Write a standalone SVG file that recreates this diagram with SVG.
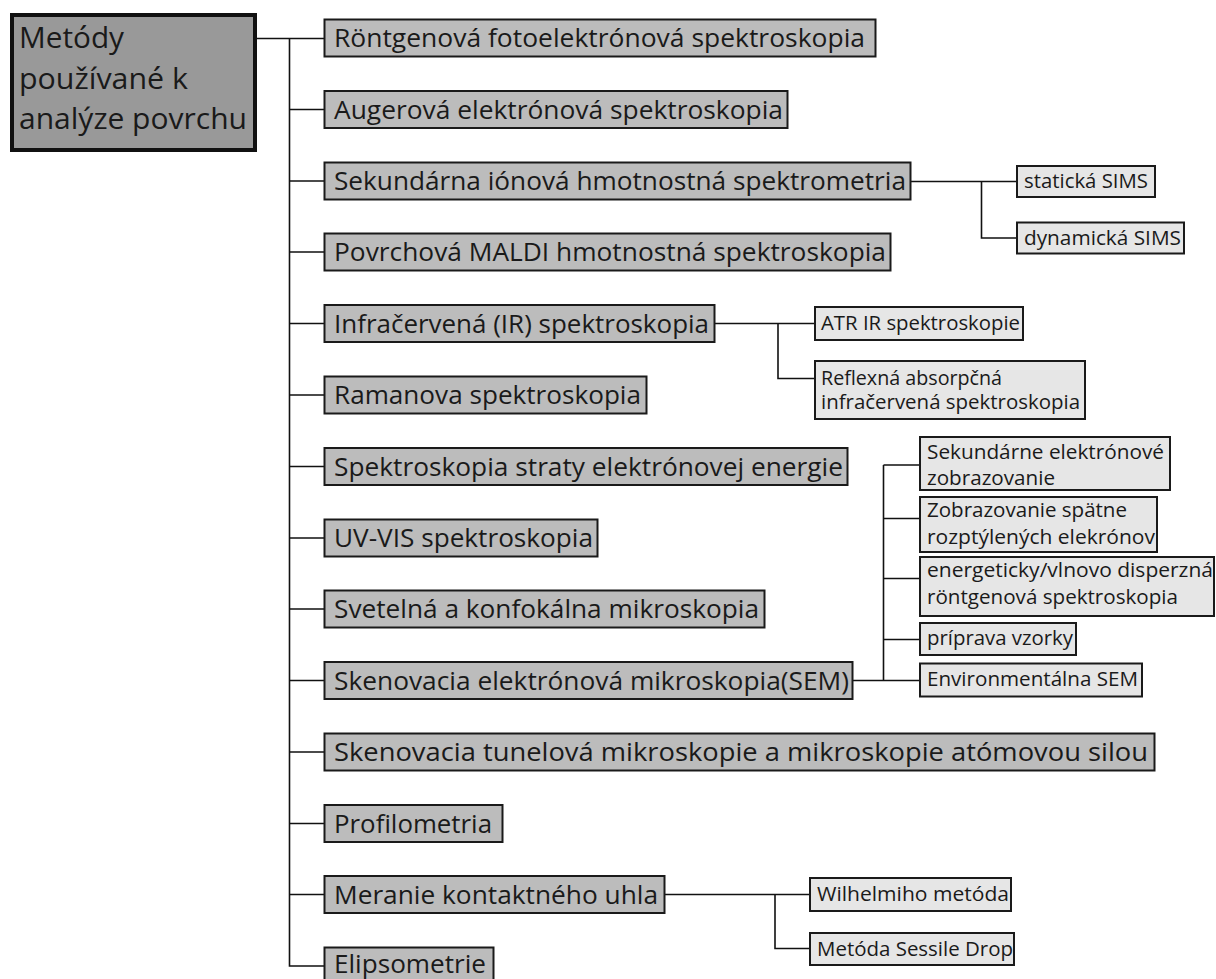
<svg xmlns="http://www.w3.org/2000/svg" width="1216" height="979" viewBox="0 0 1216 979">
<style>
text{font-family:"Open Sans","Noto Sans","DejaVu Sans",sans-serif;fill:#1a1a1a}
.root rect{fill:#999999;stroke:#111;stroke-width:4}
.root text{font-size:30px}
.m rect{fill:#bcbcbc;stroke:#1a1a1a;stroke-width:2}
.m text{font-size:26px}
.s rect{fill:#e6e6e6;stroke:#1a1a1a;stroke-width:2}
.s text{font-size:20px}
#connectors{fill:none;stroke:#111;stroke-width:1.6}
</style>
<rect width="1216" height="979" fill="#ffffff"/>
<g id="connectors">
<path d="M257 38.5H324M289.5 38.5V966H324"/>
<path d="M289.5 109.5H324M289.5 181H324M289.5 252H324M289.5 323.5H324M289.5 395H324M289.5 466.5H324M289.5 538H324M289.5 609H324M289.5 680.5H324M289.5 752H324M289.5 823.5H324M289.5 894.5H324"/>
<path d="M911 181.5H1017M981.5 181.5V238H1017"/>
<path d="M715 323.5H815M778 323.5V378.5H815"/>
<path d="M853 680.5H920M883.5 465V680.5M883.5 465H920M883.5 518.5H920M883.5 578.5H920M883.5 639.5H920"/>
<path d="M665 894.5H810M775 894.5V948.5H810"/>
</g>
<g id="root" class="root">
<rect x="12" y="15" width="243" height="135"/>
<text x="19" y="47.5" textLength="105" lengthAdjust="spacingAndGlyphs">Metódy</text>
<text x="19" y="88.5" textLength="169" lengthAdjust="spacingAndGlyphs">používané k</text>
<text x="19" y="129" textLength="228" lengthAdjust="spacingAndGlyphs">analýze povrchu</text>
</g>
<g id="n1" class="m"><rect x="324.5" y="19.5" width="551" height="37"/><text x="334" y="47" textLength="531" lengthAdjust="spacingAndGlyphs">Röntgenová fotoelektrónová spektroskopia</text></g>
<g id="n2" class="m"><rect x="324.5" y="91" width="463" height="37"/><text x="334" y="118.5" textLength="449" lengthAdjust="spacingAndGlyphs">Augerová elektrónová spektroskopia</text></g>
<g id="n3" class="m"><rect x="324.5" y="162.5" width="586" height="37"/><text x="334" y="190" textLength="572" lengthAdjust="spacingAndGlyphs">Sekundárna iónová hmotnostná spektrometria</text></g>
<g id="n4" class="m"><rect x="324.5" y="233.5" width="566" height="37"/><text x="334" y="261" textLength="552" lengthAdjust="spacingAndGlyphs">Povrchová MALDI hmotnostná spektroskopia</text></g>
<g id="n5" class="m"><rect x="324.5" y="305" width="390" height="37"/><text x="334" y="332.5" textLength="375" lengthAdjust="spacingAndGlyphs">Infračervená (IR) spektroskopia</text></g>
<g id="n6" class="m"><rect x="324.5" y="376.5" width="322" height="37"/><text x="334" y="404" textLength="307" lengthAdjust="spacingAndGlyphs">Ramanova spektroskopia</text></g>
<g id="n7" class="m"><rect x="324.5" y="448" width="523" height="37"/><text x="334" y="475.5" textLength="509" lengthAdjust="spacingAndGlyphs">Spektroskopia straty elektrónovej energie</text></g>
<g id="n8" class="m"><rect x="324.5" y="519.5" width="273" height="37"/><text x="334" y="547" textLength="259" lengthAdjust="spacingAndGlyphs">UV-VIS spektroskopia</text></g>
<g id="n9" class="m"><rect x="324.5" y="590.5" width="440" height="37"/><text x="334" y="618" textLength="425" lengthAdjust="spacingAndGlyphs">Svetelná a konfokálna mikroskopia</text></g>
<g id="n10" class="m"><rect x="324.5" y="662" width="528" height="37"/><text x="334" y="689.5" textLength="515" lengthAdjust="spacingAndGlyphs">Skenovacia elektrónová mikroskopia(SEM)</text></g>
<g id="n11" class="m"><rect x="324.5" y="733.5" width="830" height="37"/><text x="334" y="761" textLength="814" lengthAdjust="spacingAndGlyphs">Skenovacia tunelová mikroskopie a mikroskopie atómovou silou</text></g>
<g id="n12" class="m"><rect x="324.5" y="805" width="178" height="37"/><text x="334" y="832.5" textLength="158" lengthAdjust="spacingAndGlyphs">Profilometria</text></g>
<g id="n13" class="m"><rect x="324.5" y="876" width="340" height="37"/><text x="334" y="903.5" textLength="324" lengthAdjust="spacingAndGlyphs">Meranie kontaktného uhla</text></g>
<g id="n14" class="m"><rect x="324.5" y="947.5" width="169" height="37"/><text x="334" y="972.5" textLength="152" lengthAdjust="spacingAndGlyphs">Elipsometrie</text></g>
<g id="s1" class="s"><rect x="1017" y="166" width="138" height="31"/><text x="1024" y="188" textLength="124" lengthAdjust="spacingAndGlyphs">statická SIMS</text></g>
<g id="s2" class="s"><rect x="1017" y="222.5" width="167" height="31"/><text x="1024" y="245" textLength="157" lengthAdjust="spacingAndGlyphs">dynamická SIMS</text></g>
<g id="s3" class="s"><rect x="815" y="307" width="208" height="33"/><text x="821" y="330" textLength="199" lengthAdjust="spacingAndGlyphs">ATR IR spektroskopie</text></g>
<g id="s4" class="s"><rect x="815" y="361" width="270" height="58"/><text x="821" y="384.5" textLength="181" lengthAdjust="spacingAndGlyphs">Reflexná absorpčná</text><text x="821" y="409" textLength="259" lengthAdjust="spacingAndGlyphs">infračervená spektroskopia</text></g>
<g id="s5" class="s"><rect x="920" y="437" width="250" height="53"/><text x="927" y="458.5" textLength="237" lengthAdjust="spacingAndGlyphs">Sekundárne elektrónové</text><text x="927" y="485" textLength="128" lengthAdjust="spacingAndGlyphs">zobrazovanie</text></g>
<g id="s6" class="s"><rect x="920" y="497" width="237" height="55"/><text x="927" y="516.5" textLength="200" lengthAdjust="spacingAndGlyphs">Zobrazovanie spätne</text><text x="927" y="544" textLength="228" lengthAdjust="spacingAndGlyphs">rozptýlených elekrónov</text></g>
<g id="s7" class="s"><rect x="920" y="557" width="294" height="59"/><text x="927" y="576.5" textLength="286" lengthAdjust="spacingAndGlyphs">energeticky/vlnovo disperzná</text><text x="927" y="604" textLength="251" lengthAdjust="spacingAndGlyphs">röntgenová spektroskopia</text></g>
<g id="s8" class="s"><rect x="920" y="623" width="156" height="32"/><text x="927" y="645" textLength="146" lengthAdjust="spacingAndGlyphs">príprava vzorky</text></g>
<g id="s9" class="s"><rect x="920" y="663.5" width="222" height="33"/><text x="927" y="686" textLength="211" lengthAdjust="spacingAndGlyphs">Environmentálna SEM</text></g>
<g id="s10" class="s"><rect x="810" y="878" width="201" height="33"/><text x="817" y="901" textLength="192" lengthAdjust="spacingAndGlyphs">Wilhelmiho metóda</text></g>
<g id="s11" class="s"><rect x="810" y="933" width="204" height="32"/><text x="817" y="955.5" textLength="196" lengthAdjust="spacingAndGlyphs">Metóda Sessile Drop</text></g>
</svg>
